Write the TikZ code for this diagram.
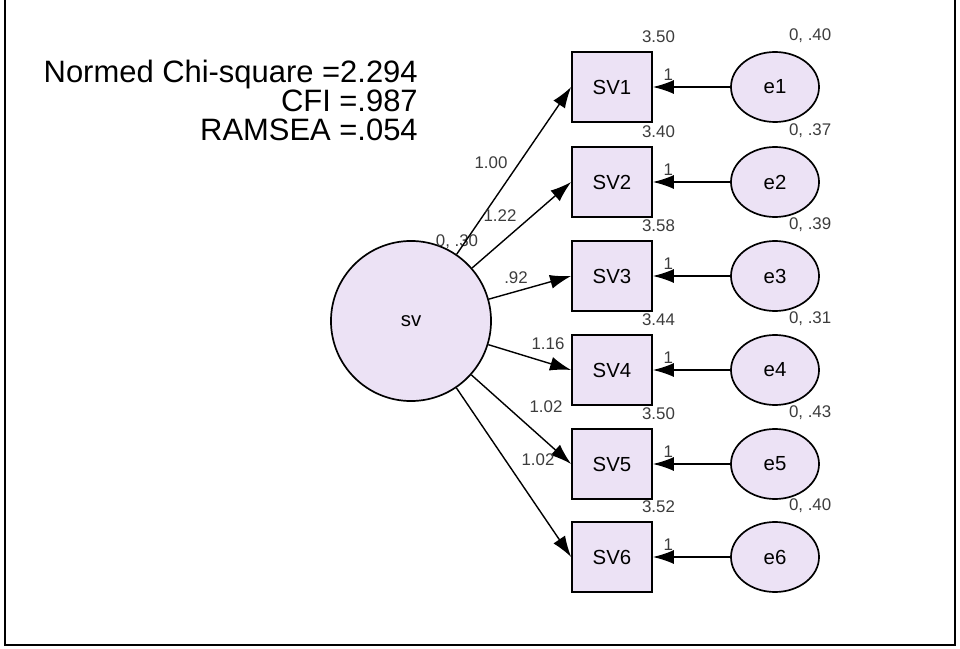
\documentclass[tikz,border=0pt]{standalone}
\usepackage{fontspec}
\setmainfont{Liberation Sans}
\usetikzlibrary{arrows.meta,positioning,shapes.geometric}
\definecolor{lav}{RGB}{236,226,245}
\definecolor{txtgray}{RGB}{60,60,60}
\tikzset{
  obs/.style = {rectangle, draw, line width=1.2pt, fill=lav, minimum width=2cm, minimum height=1.75cm, font=\fontsize{14.5}{16}\selectfont},
  err/.style = {ellipse, draw, line width=1.2pt, fill=lav, minimum width=2.2cm, minimum height=1.75cm, font=\fontsize{14.5}{16}\selectfont},
  lat/.style = {circle, draw, line width=1.2pt, fill=lav, minimum size=4cm, font=\fontsize{14.5}{16}\selectfont},
  line/.style = {draw, line width=1pt, -{Latex[length=15pt,width=10pt]}},
  est/.style = {font=\fontsize{12}{14}\selectfont, text=txtgray, inner sep=1pt}
}
\begin{document}
\begin{tikzpicture}[x=0.025cm, y=-0.025cm]
  \useasboundingbox (0,0) rectangle (960,649);
  \draw[line width=1pt] (5,-10) rectangle (955,645);
  % fit indices
  \node[align=right, anchor=north east, inner sep=0pt, font=\fontsize{22}{20.6}\selectfont] (fit) at (418,60)
    {Normed Chi-square =2.294\\CFI =.987\\RAMSEA =.054};
  % latent factor
  \node[lat] (sv) at (411,321) {sv};
  \node[est] (svv) at (457,242) {0, .30};
  % observed items and errors
  \foreach \i/\y/\m/\v in {1/87/3.50/.40, 2/182/3.40/.37, 3/276/3.58/.39, 4/370/3.44/.31, 5/464/3.50/.43, 6/557/3.52/.40} {
    \node[obs] (sv\i) at (612,\y) {SV\i};
    \node[err] (e\i) at (775,\y) {e\i};
    \node[est, anchor=south, xshift=4pt, yshift=5pt] (m\i) at (sv\i.north east) {\m};
    \node[est, anchor=south, xshift=25pt, yshift=5pt] (v\i) at (e\i.north) {0, \v};
    \path[line] (e\i) -- node[est, above, pos=0.8, yshift=3pt] {1} (sv\i);
    \path[line] (sv) -- (sv\i.west);
  }
  % loadings
  \node[est] (l1) at (491,163) {1.00};
  \node[est] (l2) at (500,216) {1.22};
  \node[est] (l3) at (516,278) {.92};
  \node[est] (l4) at (548,344) {1.16};
  \node[est] (l5) at (546,407) {1.02};
  \node[est] (l6) at (538,460) {1.02};
\end{tikzpicture}
\end{document}
